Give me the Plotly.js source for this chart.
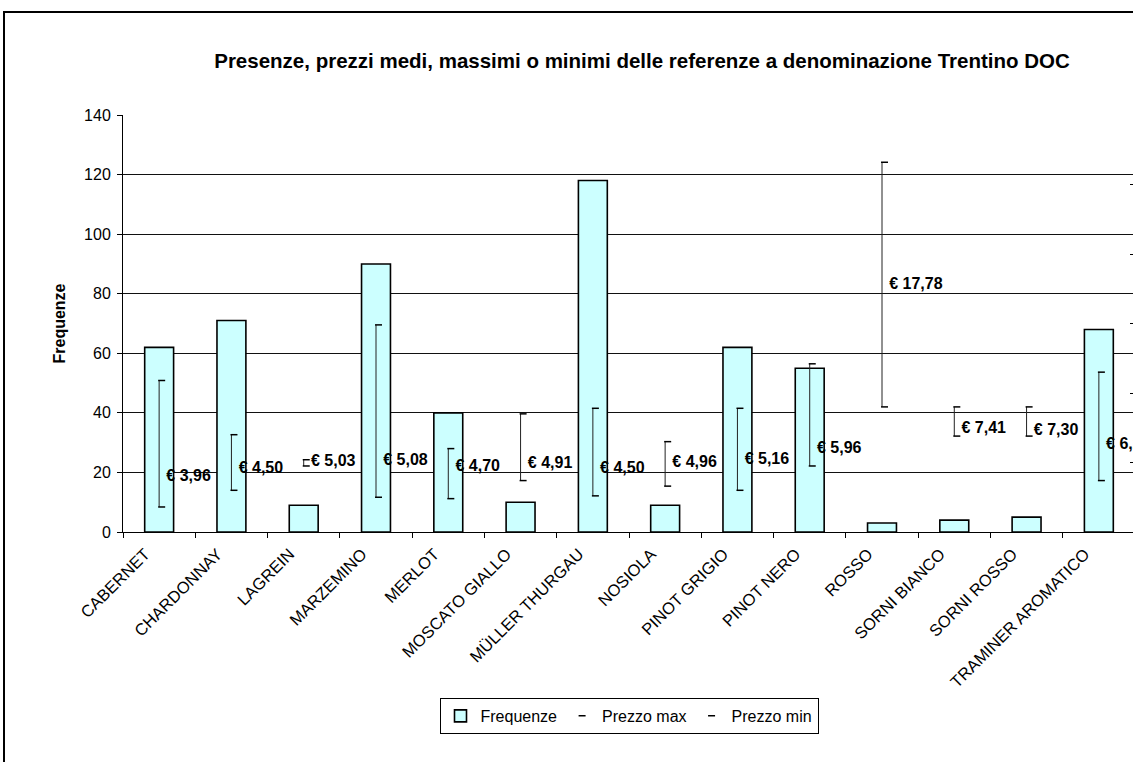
<!DOCTYPE html>
<html>
<head>
<meta charset="utf-8">
<script src="https://cdn.plot.ly/plotly-3.0.1.min.js"></script>
<style>
  html, body { margin: 0; padding: 0; background: #fff; overflow: hidden; }
  #chart { position: absolute; left: 0; top: 0; }
  #frame { position: absolute; left: 3px; top: 11px; width: 1300px; height: 900px;
           border: 2px solid #000; pointer-events: none; }
</style>
</head>
<body>
<div id="chart"></div>
<div id="frame"></div>
<script>
// Trentino DOC references: number of listings and price range per wine
const categories = ['CABERNET', 'CHARDONNAY', 'LAGREIN', 'MARZEMINO', 'MERLOT', 'MOSCATO GIALLO',
  'MÜLLER THURGAU', 'NOSIOLA', 'PINOT GRIGIO', 'PINOT NERO', 'ROSSO', 'SORNI BIANCO',
  'SORNI ROSSO', 'TRAMINER AROMATICO'];
const frequenze = [62, 71, 9, 90, 40, 10, 118, 9, 62, 55, 3, 4, 5, 68];
const prezzoMax = [10.9, 7.0, 5.2, 14.9, 6.0, 8.5, 8.9, 6.5, 8.9, 12.1, 26.6, 9.0, 9.0, 11.5];
const prezzoMin = [1.8, 3.0, 4.75, 2.5, 2.4, 3.7, 2.6, 3.3, 3.0, 4.75, 9.0, 6.9, 6.9, 3.7];
const prezzoMedio = [3.96, 4.50, 5.03, 5.08, 4.70, 4.91, 4.50, 4.96, 5.16, 5.96, 17.78, 7.41, 7.30, 6.26];

const FONT = 'Liberation Sans, Arial, Helvetica, sans-serif';
const idx = categories.map((_, i) => i);
const capShift = 0.035;   // small caps sit just right of the high-low line

// vertical high-low segments, one per category
const hlX = [], hlY = [];
idx.forEach(i => { hlX.push(i, i, null); hlY.push(prezzoMin[i], prezzoMax[i], null); });

const euro = v => '€ ' + v.toFixed(2).replace('.', ',');

const traces = [
  {
    type: 'bar', name: 'Frequenze', x: categories, y: frequenze,
    xaxis: 'x', yaxis: 'y',
    marker: { color: '#CCFFFF', line: { color: '#000', width: 1.6 } },
    hoverinfo: 'x+y'
  },
  {
    type: 'scatter', mode: 'lines', x: hlX, y: hlY, xaxis: 'x2', yaxis: 'y2',
    line: { color: '#222', width: 1 }, showlegend: false, hoverinfo: 'skip', connectgaps: false
  },
  {
    type: 'scatter', mode: 'markers', name: 'Prezzo max',
    x: idx.map(i => i + capShift), y: prezzoMax, xaxis: 'x2', yaxis: 'y2',
    marker: { symbol: 'line-ew', size: 5, color: '#000', line: { color: '#000', width: 1.5 } }
  },
  {
    type: 'scatter', mode: 'markers', name: 'Prezzo min',
    x: idx.map(i => i + capShift), y: prezzoMin, xaxis: 'x2', yaxis: 'y2',
    marker: { symbol: 'line-ew', size: 5, color: '#000', line: { color: '#000', width: 1.5 } }
  },
  {
    type: 'scatter', mode: 'text', x: idx.map(i => i + 0.1), y: prezzoMedio,
    xaxis: 'x2', yaxis: 'y2',
    text: prezzoMedio.map(euro), textposition: 'middle right',
    textfont: { family: FONT, size: 16, color: '#000', weight: 'bold' },
    showlegend: false, hoverinfo: 'text'
  }
];

const layout = {
  width: 1180, height: 762,
  margin: { l: 123, r: 45, t: 115, b: 230 },
  paper_bgcolor: '#fff', plot_bgcolor: '#fff',
  font: { family: FONT, size: 16, color: '#000' },
  title: {
    text: 'Presenze, prezzi medi, massimi o minimi delle referenze a denominazione Trentino DOC',
    font: { family: FONT, size: 20.5, color: '#000', weight: 'bold' },
    x: 642 / 1180, xanchor: 'center', xref: 'container',
    y: 1 - 61 / 762, yanchor: 'middle', yref: 'container'
  },
  bargap: 0.6,
  showlegend: true,
  legend: {
    orientation: 'h', x: 0.5, xanchor: 'center', y: -0.398, yanchor: 'top',
    bordercolor: '#000', borderwidth: 1, bgcolor: '#fff',
    font: { family: FONT, size: 16, color: '#000' }, itemwidth: 30, traceorder: 'normal'
  },
  xaxis: {
    type: 'category', range: [-0.5, 13.5], tickson: 'boundaries',
    ticks: 'outside', ticklen: 5, tickcolor: '#000', tickwidth: 1,
    showline: true, linecolor: '#000', linewidth: 1,
    showgrid: false, tickangle: -45,
    ticklabelshift: -14, ticklabelstandoff: 5,
    tickfont: { family: FONT, size: 16.5, color: '#000' }, fixedrange: true
  },
  xaxis2: {
    overlaying: 'x', range: [-0.5, 13.5], visible: false, fixedrange: true
  },
  yaxis: {
    range: [0, 140], dtick: 20, tick0: 0,
    ticks: 'outside', ticklen: 5, tickcolor: '#000',
    showline: true, linecolor: '#000', linewidth: 1,
    showgrid: true, gridcolor: '#111', gridwidth: 1, zeroline: false,
    ticklabelstandoff: 3,
    tickfont: { family: FONT, size: 16, color: '#000' },
    title: { text: 'Frequenze', font: { family: FONT, size: 16, color: '#000', weight: 'bold' }, standoff: 14 },
    fixedrange: true
  },
  yaxis2: {
    overlaying: 'y', side: 'right', range: [0, 30], dtick: 5, tick0: 0,
    ticks: 'inside', ticklen: 5, tickcolor: '#000',
    showline: true, linecolor: '#000', showgrid: false, zeroline: false,
    showticklabels: false, fixedrange: true
  }
};

Plotly.newPlot('chart', traces, layout, { displayModeBar: false });
</script>
</body>
</html>
